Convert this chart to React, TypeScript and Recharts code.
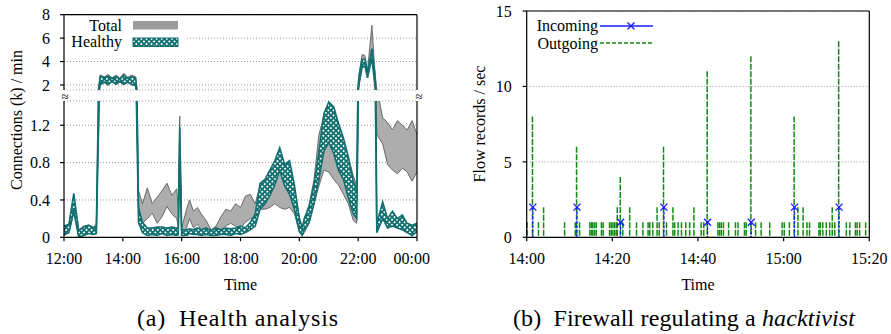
import React from 'react';
import { ComposedChart, Area, Bar, XAxis, YAxis, CartesianGrid, Legend } from 'recharts';

const SERIF = 'Liberation Serif, DejaVu Serif, serif';
const TEAL = '#127070';
const GRID = '#9a9a9a';
const BLUE = '#1c1cff';
const GREEN = '#128a12';

// (a) connections per minute, thousands; x = minutes after 12:00
const minutes = [
  0, 10, 20, 30, 40, 50, 60, 66, 74, 82, 90, 98, 106, 114, 122, 130, 138, 146, 152, 160,
  170, 180, 190, 200, 210, 220, 230, 233, 236, 240, 250, 256, 264, 272, 280, 290, 300, 310, 320, 330,
  340, 350, 360, 370, 380, 390, 400, 410, 420, 430, 440, 450, 460, 470, 480, 486, 490, 500, 510, 520,
  530, 540, 550, 560, 570, 580, 590, 597, 602, 608, 614, 619, 628, 634, 638, 650, 660, 670, 680, 690,
  700, 710, 720,
];
const totalLow = [
  0.02, 0.05, 0.27, 0.01, 0.03, 0.05, 0.03, 0.05, 1.95, 2.2, 1.95, 2.3, 2.0, 2.25, 2.0, 2.2, 2.0, 1.9, 0.3, 0.15,
  0.2, 0.26, 0.15, 0.22, 0.33, 0.25, 0.2, 0.12, 1.0, 0.03, 0.1, 0.2, 0.1, 0.14, 0.08, 0.05, 0.02, 0.05, 0.08, 0.12,
  0.15, 0.12, 0.1, 0.16, 0.2, 0.18, 0.3, 0.3, 0.32, 0.36, 0.32, 0.3, 0.32, 0.25, 0.06, 0.02, 0.05, 0.15, 0.36, 0.55,
  0.72, 0.7, 0.62, 0.56, 0.46, 0.36, 0.18, 0.15, 2.2, 3.6, 3.8, 2.6, 4.6, 2.0, 1.1, 1.0, 0.78, 0.72, 0.68, 0.74,
  0.7, 0.6, 0.7,
];
const totalHigh = [
  0.1, 0.13, 0.42, 0.08, 0.12, 0.13, 0.11, 0.14, 2.85, 2.7, 2.9, 2.6, 2.85, 2.6, 3.0, 2.65, 2.85, 2.7, 0.5, 0.36,
  0.53, 0.36, 0.43, 0.5, 0.58, 0.45, 0.52, 0.3, 1.3, 0.1, 0.3, 0.4, 0.28, 0.32, 0.25, 0.18, 0.08, 0.12, 0.22, 0.3,
  0.28, 0.36, 0.32, 0.44, 0.46, 0.36, 0.56, 0.62, 0.66, 0.72, 0.76, 0.7, 0.66, 0.5, 0.22, 0.1, 0.2, 0.35, 0.62, 1.1,
  1.3, 1.36, 1.26, 1.12, 1.0, 0.86, 0.66, 0.55, 3.0, 4.6, 4.5, 3.2, 7.1, 3.2, 1.6, 1.28, 1.23, 1.15, 1.25, 1.2,
  1.15, 1.25, 1.1,
];
const healthyLow = [
  0.03, 0.05, 0.28, 0.0, 0.02, 0.04, 0.03, 0.04, 2.05, 2.25, 2.05, 2.3, 2.1, 2.3, 2.1, 2.25, 2.05, 1.95, 0.16, 0.05,
  0.02, 0.03, 0.02, 0.04, 0.02, 0.03, 0.02, 0.03, 0.85, 0.02, 0.02, 0.04, 0.03, 0.03, 0.02, 0.03, 0.02, 0.02, 0.03, 0.03,
  0.02, 0.04, 0.03, 0.05, 0.08, 0.12, 0.3, 0.36, 0.45, 0.56, 0.72, 0.55, 0.46, 0.3, 0.06, 0.02, 0.08, 0.16, 0.36, 0.62,
  0.92, 1.02, 0.9, 0.72, 0.62, 0.42, 0.25, 0.2, 2.1, 3.5, 3.6, 2.6, 4.3, 2.0, 0.05, 0.2, 0.1, 0.12, 0.1, 0.08,
  0.05, 0.02, 0.06,
];
const healthyHigh = [
  0.12, 0.14, 0.47, 0.07, 0.11, 0.13, 0.1, 0.12, 2.75, 2.6, 2.75, 2.55, 2.7, 2.5, 2.85, 2.55, 2.7, 2.6, 0.32, 0.16,
  0.1, 0.1, 0.11, 0.11, 0.1, 0.11, 0.1, 0.1, 1.18, 0.08, 0.08, 0.09, 0.08, 0.1, 0.08, 0.1, 0.07, 0.1, 0.08, 0.1,
  0.09, 0.1, 0.12, 0.1, 0.16, 0.25, 0.58, 0.62, 0.72, 0.82, 0.96, 0.78, 0.82, 0.56, 0.2, 0.1, 0.2, 0.33, 0.56, 0.92,
  1.32, 1.45, 1.4, 1.22, 1.06, 0.86, 0.6, 0.5, 2.8, 4.2, 4.2, 3.0, 5.1, 3.0, 0.15, 0.38, 0.2, 0.28, 0.2, 0.24,
  0.15, 0.13, 0.15,
];

const hourTicks = [0, 120, 240, 360, 480, 600, 720];
const hourLabels = ['12:00', '14:00', '16:00', '18:00', '20:00', '22:00', '00:00'];
const upperTicks = [2, 4, 6, 8];
const lowerTicks = [0, 0.4, 0.8, 1.2];
const healthSeries = ['Total', 'Healthy'];

// (b) flow records per second; x = minutes after 14:00
const outTimes = [
  0.15, 1.4, 2.8, 4.0, 8.9, 11.4, 11.7, 12.4, 14.8, 15.2, 15.5, 15.9, 16.3, 17.5, 17.9, 19.4, 19.8, 20.2, 20.6, 21.0,
  21.2, 21.9, 22.5, 24.1, 25.7, 27.2, 28.4, 28.8, 29.5, 30.5, 31.0, 32.0, 32.7, 34.2, 34.6, 35.4, 36.2, 37.2, 38.1, 39.1,
  40.8, 41.4, 42.2, 44.7, 45.1, 45.5, 46.0, 47.2, 48.8, 49.4, 50.9, 51.3, 52.4, 53.5, 54.8, 56.8, 59.7, 60.2, 61.4, 62.5,
  63.4, 64.6, 65.5, 66.1, 68.3, 68.6, 69.2, 70.0, 70.8, 71.4, 72.0, 72.9, 74.7, 75.5, 76.8, 77.2, 77.8, 79.2,
];
const outValues = [
  1, 8, 1, 2, 1, 1, 6, 1, 1, 1, 1, 1, 1, 1, 1, 1, 1, 1, 1, 1,
  2, 4, 1, 2, 1, 1, 1, 1, 1, 2, 1, 6, 1, 2, 1, 1, 1, 1, 1, 2,
  1, 1, 11, 1, 1, 1, 1, 1, 1, 1, 1, 1, 12, 1, 1, 1, 1, 1, 1, 8,
  2, 2, 1, 1, 1, 1, 1, 1, 1, 2, 1, 13, 1, 1, 1, 1, 1, 1,
];
const inTimes = [1.4, 11.7, 21.9, 32.0, 42.2, 52.4, 62.5, 72.9];
const inValues = [2, 2, 1, 2, 1, 1, 2, 2];

const fwTicks = [0, 20, 40, 60, 80];
const fwLabels = ['14:00', '14:20', '14:40', '15:00', '15:20'];
const fwYTicks = [0, 5, 10, 15];
const fwSeries = ['Incoming', 'Outgoing'];

const healthData = minutes.map((t, i) => ({
  t,
  total: [totalLow[i], totalHigh[i]],
  healthy: [healthyLow[i], healthyHigh[i]],
}));

const fwData = Array.from(new Set([...outTimes, ...inTimes]))
  .sort((a, b) => a - b)
  .map((t) => {
    const o = outTimes.indexOf(t);
    const n = inTimes.indexOf(t);
    return { t, out: o >= 0 ? outValues[o] : null, inc: n >= 0 ? inValues[n] : null };
  });

const tickText = { fill: '#000', fontSize: 16, fontFamily: SERIF };
const blackLine = { stroke: '#000', strokeWidth: 1.2 };

function OutgoingSpike(props: any) {
  const { x, y, width, height } = props;
  if (!height || !isFinite(height) || height <= 0) return <g />;
  const cx = x + width / 2;
  return (
    <line x1={cx} x2={cx} y1={y} y2={y + height} stroke={GREEN} strokeWidth={1.5} strokeDasharray="6 1.5" />
  );
}

function IncomingSpike(props: any) {
  const { x, y, width, height } = props;
  if (!height || !isFinite(height) || height <= 0) return <g />;
  const cx = x + width / 2;
  const s = 3.5;
  return (
    <g>
      <line x1={cx} x2={cx} y1={y} y2={y + height} stroke={BLUE} strokeWidth={1.3} strokeDasharray="3 1.5" />
      <path d={`M${cx - s} ${y - s} L${cx + s} ${y + s} M${cx - s} ${y + s} L${cx + s} ${y - s}`} stroke={BLUE} strokeWidth={1.4} />
    </g>
  );
}

function HealthKey() {
  return (
    <svg width={121} height={38} style={{ display: 'block', background: '#fff' }}>
      <text x={57} y={14.7} textAnchor="end" fontSize={16} fontFamily={SERIF}>{healthSeries[0]}</text>
      <rect x={68} y={5} width={45} height={8.5} fill="#9c9c9c" />
      <text x={57} y={30.6} textAnchor="end" fontSize={16} fontFamily={SERIF}>{healthSeries[1]}</text>
      <rect x={68} y={22} width={45} height={8.5} fill="url(#hatch)" stroke={TEAL} strokeWidth={1} />
    </svg>
  );
}

function FirewallKey() {
  return (
    <svg width={140} height={40} style={{ display: 'block' }}>
      <text x={78} y={17} textAnchor="end" fontSize={16} fontFamily={SERIF}>{fwSeries[0]}</text>
      <line x1={80} x2={133} y1={12} y2={12} stroke={BLUE} strokeWidth={1.3} />
      <path d="M107.5 8.5 L114.5 15.5 M107.5 15.5 L114.5 8.5" stroke={BLUE} strokeWidth={1.4} />
      <text x={78} y={34.5} textAnchor="end" fontSize={16} fontFamily={SERIF}>{fwSeries[1]}</text>
      <line x1={80} x2={133} y1={29} y2={29} stroke={GREEN} strokeWidth={1.3} strokeDasharray="4 2" />
    </svg>
  );
}

const hourLabel = (v: number) => hourLabels[hourTicks.indexOf(v)] ?? '';
const fwLabel = (v: number) => fwLabels[fwTicks.indexOf(v)] ?? '';

function HealthBands() {
  return (
    <>
      <Area dataKey="total" type="linear" stroke="#6a6a6a" strokeWidth={1} fill="#adadad" fillOpacity={1} isAnimationActive={false} />
      <Area dataKey="healthy" type="linear" stroke={TEAL} strokeWidth={1.6} fill="url(#hatch)" fillOpacity={1} isAnimationActive={false} />
    </>
  );
}

export default function App() {
  return (
    <div style={{ position: 'absolute', left: 0, top: 0, width: 891, height: 334, background: '#fff', fontFamily: SERIF }}>
      <svg width={0} height={0} style={{ position: 'absolute' }}>
        <defs>
          <pattern id="hatch" patternUnits="userSpaceOnUse" width={3.6} height={3.6} patternTransform="rotate(45)">
            <rect width={3.6} height={3.6} fill={TEAL} />
            <rect x={0.9} y={0.9} width={1.8} height={1.8} fill="#fff" />
          </pattern>
        </defs>
      </svg>

      {/* (a) upper panel, 2k..8k */}
      <div style={{ position: 'absolute', left: 0, top: 0 }}>
        <ComposedChart width={430} height={95} data={healthData} margin={{ top: 10.7, right: 9, bottom: 5, left: 0 }}>
          <CartesianGrid vertical={false} stroke={GRID} strokeDasharray="1 2" />
          <XAxis dataKey="t" type="number" orientation="top" domain={[0, 720]} ticks={hourTicks} tick={false}
            tickSize={4} height={4} axisLine={blackLine} tickLine={blackLine} />
          <YAxis type="number" domain={[1.57, 8]} allowDataOverflow ticks={upperTicks} tick={tickText}
            tickSize={4} tickMargin={10} width={64} axisLine={blackLine} tickLine={blackLine} />
          <YAxis yAxisId="right" orientation="right" type="number" domain={[1.57, 8]} allowDataOverflow ticks={upperTicks}
            tick={false} tickSize={4} width={4} axisLine={blackLine} tickLine={blackLine} />
          {HealthBands()}
          <Legend content={() => <HealthKey />} layout="horizontal" verticalAlign="middle" align="center"
            wrapperStyle={{ left: 65, top: 16, width: 121, height: 38, lineHeight: 0 }} />
        </ComposedChart>
      </div>

      {/* (a) lower panel, 0..1.46k */}
      <div style={{ position: 'absolute', left: 0, top: 95 }}>
        <ComposedChart width={430} height={185} data={healthData} margin={{ top: 6, right: 9, bottom: 12.7, left: 0 }}>
          <CartesianGrid vertical={false} stroke={GRID} strokeDasharray="1 2" />
          <XAxis dataKey="t" type="number" domain={[0, 720]} ticks={hourTicks} tickFormatter={hourLabel} tick={tickText}
            tickSize={4} tickMargin={11} height={30} axisLine={blackLine} tickLine={blackLine} />
          <YAxis type="number" domain={[0, 1.46]} allowDataOverflow ticks={lowerTicks} tick={tickText}
            tickSize={4} tickMargin={10} width={64} axisLine={blackLine} tickLine={blackLine} />
          <YAxis yAxisId="right" orientation="right" type="number" domain={[0, 1.46]} allowDataOverflow ticks={lowerTicks}
            tick={false} tickSize={4} width={4} axisLine={blackLine} tickLine={blackLine} />
          {HealthBands()}
        </ComposedChart>
      </div>

      {/* (b) firewall flows */}
      <div style={{ position: 'absolute', left: 440, top: 0 }}>
        <ComposedChart width={451} height={280} data={fwData} barGap={0}
          margin={{ top: 7, right: 17.7, bottom: 12.7, left: 36.7 }}>
          <CartesianGrid vertical={false} stroke={GRID} strokeDasharray="1 2" />
          <XAxis dataKey="t" type="number" domain={[0, 80]} ticks={fwTicks} tickFormatter={fwLabel} tick={tickText}
            tickSize={4} tickMargin={11} height={30} axisLine={blackLine} tickLine={blackLine} />
          <XAxis xAxisId="top" orientation="top" type="number" domain={[0, 80]} ticks={fwTicks} tick={false}
            tickSize={4} height={4} axisLine={blackLine} tickLine={blackLine} />
          <YAxis type="number" domain={[0, 15]} ticks={fwYTicks} tick={tickText}
            tickSize={4} tickMargin={11} width={50} axisLine={blackLine} tickLine={blackLine} />
          <YAxis yAxisId="right" orientation="right" type="number" domain={[0, 15]} ticks={fwYTicks}
            tick={false} tickSize={4} width={4} axisLine={blackLine} tickLine={blackLine} />
          <Bar dataKey="out" barSize={1} shape={(p: any) => <OutgoingSpike {...p} />} isAnimationActive={false} />
          <Bar dataKey="inc" barSize={1} shape={(p: any) => <IncomingSpike {...p} />} isAnimationActive={false} />
          <Legend content={() => <FirewallKey />} layout="horizontal" verticalAlign="middle" align="center"
            wrapperStyle={{ left: 80, top: 14, width: 140, height: 40, lineHeight: 0 }} />
        </ComposedChart>
      </div>

      {/* axis titles, break marks and captions */}
      <svg width={891} height={334} style={{ position: 'absolute', left: 0, top: 0, pointerEvents: 'none' }}
        fontFamily={SERIF} fill="#000">
        <text transform="translate(22,120) rotate(-90)" textAnchor="middle" fontSize={16}>Connections (k) / min</text>
        <text transform="translate(485,124) rotate(-90)" textAnchor="middle" fontSize={16}>Flow records / sec</text>
        <text x={240.5} y={289.5} textAnchor="middle" fontSize={16}>Time</text>
        <text x={698} y={289.5} textAnchor="middle" fontSize={16}>Time</text>
        <text x={65} y={100.5} textAnchor="middle" fontSize={13}>≈</text>
        <text x={419} y={100.5} textAnchor="middle" fontSize={13}>≈</text>
        <text x={137} y={326} fontSize={24} textLength={201} lengthAdjust="spacing">(a)&#8194;Health analysis</text>
        <text x={513} y={326} fontSize={24} textLength={342} lengthAdjust="spacing">
          (b)&#8194;Firewall regulating a <tspan fontStyle="italic">hacktivist</tspan>
        </text>
      </svg>
    </div>
  );
}
